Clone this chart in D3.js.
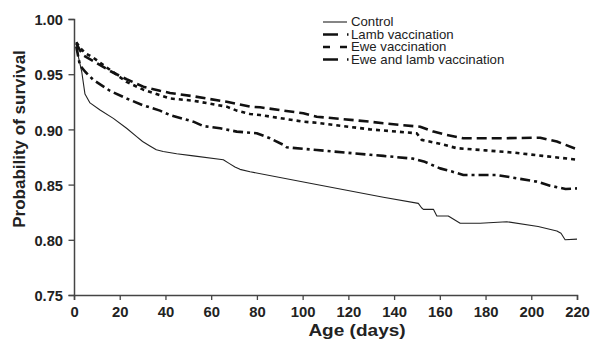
<!DOCTYPE html>
<html><head><meta charset="utf-8">
<script src="https://cdn.jsdelivr.net/npm/d3@7"></script>
<style>
body{margin:0;background:#fff;}
svg{display:block;font-family:Arial,"Liberation Sans",sans-serif;}
</style></head>
<body><div id="chart"></div>
<script>
const seriesNames = ["Control","Lamb vaccination","Ewe vaccination","Ewe and lamb vaccination"];
const xTicks = [0,20,40,60,80,100,120,140,160,180,200,220];
const yTicks = [0.75,0.80,0.85,0.90,0.95,1.00];

const controlData = [[1,0.979],[2,0.965],[3.4,0.952],[4.8,0.932],[7,0.924],[11.4,0.9176],[17.2,0.910],[23,0.901],[27.4,0.8934],[30,0.889],[33.2,0.885],[36,0.8815],[39,0.880],[44.9,0.878],[52.2,0.876],[65.3,0.8725],[68,0.869],[70.4,0.866],[72.6,0.8638],[77,0.8617],[103.2,0.8512],[135.3,0.8385],[150.6,0.833],[152,0.829],[152.8,0.8276],[157.2,0.8276],[158.7,0.8216],[163.7,0.8216],[168.9,0.815],[177.6,0.815],[189.3,0.8164],[203,0.812],[211.2,0.808],[213,0.806],[214.8,0.800],[220,0.8006]];
const lambData = [[1,0.978],[2.5,0.972],[4.1,0.967],[8.4,0.962],[15.7,0.953],[23,0.9454],[30.3,0.9387],[37.6,0.935],[42,0.933],[52.2,0.930],[66.8,0.925],[77,0.9206],[81.4,0.920],[100.3,0.9146],[106.2,0.9115],[129.5,0.907],[135.3,0.9055],[151.4,0.9024],[157.2,0.898],[163,0.895],[170.3,0.892],[187.8,0.892],[203.9,0.8925],[211.2,0.889],[220,0.882]];
const eweData = [[1,0.979],[3,0.973],[5,0.969],[8.4,0.965],[15.7,0.954],[23,0.943],[30.3,0.936],[37.6,0.931],[42,0.928],[52.2,0.926],[66.8,0.9206],[71.2,0.917],[77,0.914],[81.4,0.913],[100.3,0.907],[106.2,0.906],[129.5,0.900],[135.3,0.899],[149.9,0.8965],[152.1,0.8905],[160,0.887],[167.4,0.883],[180,0.881],[192.2,0.879],[205,0.876],[220,0.8726]];
const bothData = [[1,0.975],[2.6,0.958],[5,0.952],[8.4,0.945],[15.7,0.935],[23,0.928],[30,0.922],[37.6,0.917],[42,0.913],[52.2,0.907],[56.6,0.903],[63.9,0.901],[71.2,0.898],[79.9,0.8965],[85.7,0.892],[91.6,0.886],[93,0.8838],[106.2,0.8813],[129.5,0.877],[135.3,0.876],[148.4,0.8735],[153,0.871],[160.1,0.8647],[165,0.862],[170.3,0.8587],[184.9,0.8587],[202.4,0.8527],[208.2,0.849],[215,0.846],[220,0.8466]];

const W=590,H=342;
const margin={top:19,right:13,bottom:47,left:74};
const svg=d3.select("#chart").append("svg").attr("width",W).attr("height",H);
const x=d3.scaleLinear().domain([0,220]).range([margin.left,W-margin.right]);
const y=d3.scaleLinear().domain([0.75,1.0]).range([H-margin.bottom,margin.top]);

const axisColor="#444";
const gx=svg.append("g").attr("transform",`translate(0,${H-margin.bottom})`)
  .call(d3.axisBottom(x).tickValues(xTicks).tickSize(5).tickPadding(7).tickFormat(d3.format("d")));
const gy=svg.append("g").attr("transform",`translate(${margin.left},0)`)
  .call(d3.axisLeft(y).tickValues(yTicks).tickSize(5.5).tickPadding(5).tickFormat(d3.format(".2f")));
[gx,gy].forEach(g=>{
  g.select(".domain").attr("stroke",axisColor).attr("stroke-width",1.5);
  g.selectAll(".tick line").attr("stroke",axisColor).attr("stroke-width",1.3);
  g.selectAll(".tick text").attr("fill","#222").attr("font-size","14px").attr("font-weight","bold")
   .attr("font-family","Arial,'Liberation Sans',sans-serif");
});
gx.selectAll(".tick text").attr("transform","scale(1.06,1)");
gy.selectAll(".tick text").attr("transform","scale(1.05,1)").attr("dy","0.4em");

svg.append("text").attr("transform","translate(357,336) scale(1.12,1)")
  .attr("text-anchor","middle").attr("font-size","17px").attr("font-weight","bold").attr("fill","#222")
  .text("Age (days)");
svg.append("text").attr("transform","translate(25,139) rotate(-90)")
  .attr("text-anchor","middle").attr("font-size","17px").attr("font-weight","bold").attr("fill","#222")
  .text("Probability of survival");

const styles=[
  {data:controlData,w:1.1,dash:null,color:"#222"},
  {data:lambData,w:2.6,dash:"10,5",color:"#111"},
  {data:eweData,w:2.6,dash:"4,4",color:"#111"},
  {data:bothData,w:2.6,dash:"10,4,3,4",color:"#111"}
];
const line=d3.line().x(d=>x(d[0])).y(d=>y(d[1]));
styles.forEach(s=>{
  svg.append("path").datum(s.data).attr("d",line).attr("fill","none")
    .attr("stroke",s.color).attr("stroke-width",s.w)
    .attr("stroke-dasharray",s.dash).attr("stroke-linejoin","round");
});

const legY=[22,34.5,47,59.5];
const legDash=[null,"15,9,1.5,20","7,10","15,9,1.5,20"];
const lg=svg.append("g");
seriesNames.forEach((n,i)=>{
  const s=styles[i];
  lg.append("line").attr("x1",323).attr("x2",i===0?347:348.5).attr("y1",legY[i]).attr("y2",legY[i])
    .attr("stroke",s.color).attr("stroke-width",i===0?s.w:(i===2?2.6:2.6))
    .attr("stroke-dasharray",legDash[i]);
  lg.append("text").attr("transform",`translate(351,${legY[i]}) scale(1.1,1)`).attr("dy","0.35em")
    .attr("font-size","12px").attr("fill","#222").text(n);
});
</script></body></html>
